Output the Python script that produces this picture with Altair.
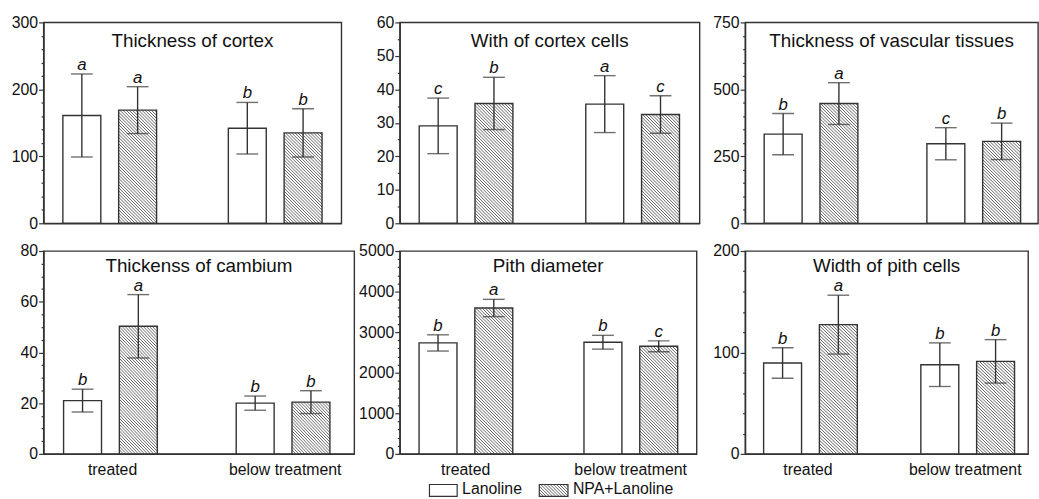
import altair as alt

# ---------------- data ----------------
groups = ["treated", "below treatment"]
series = ["Lanoline", "NPA+Lanoline"]

titles = ["Thickness of cortex", "With of cortex cells", "Thickness of vascular tissues",
          "Thickenss of cambium", "Pith diameter", "Width of pith cells"]
ymax = [300, 60, 750, 80, 5000, 200]
major = [100, 10, 250, 20, 1000, 100]
minor = [20, 5, 50, 5, 200, 20]

# order: treated-Lanoline, treated-NPA, below-Lanoline, below-NPA
means = [
    [161, 169, 142, 135],
    [29.1, 35.8, 35.6, 32.5],
    [333, 447, 297, 306],
    [21.0, 50.3, 20.0, 20.4],
    [2734, 3595, 2751, 2651],
    [89.6, 127.4, 87.9, 91.2],
]
errs = [
    [62, 35, 38.5, 36],
    [8.3, 7.8, 8.5, 5.6],
    [77, 78, 60, 68],
    [4.5, 12.5, 2.8, 4.5],
    [200, 213, 170, 135],
    [15, 29, 21.5, 21.4],
]
letters = [
    ["a", "a", "b", "b"],
    ["c", "b", "a", "c"],
    ["b", "a", "c", "b"],
    ["b", "a", "b", "b"],
    ["b", "a", "b", "c"],
    ["b", "a", "b", "b"],
]

# ---------------- style / layout ----------------
FONT = "Liberation Sans"
INK = "#333333"
TXT = "#111111"
widths = [301, 303, 296, 314, 300, 286]
heights = [203, 203, 203, 205, 205, 205]
PI, PO = 0.4, 0.1      # group band paddings
OPI, OPO = 0.32, 0.05  # offset band paddings


def hatch(w, h, spacing=3.2, width=0.6, ink="#5c5c5c"):
    """Linear gradient (bbox units) drawing soft 45-degree '\\' stripes."""
    k = (w + h) / (w * w + h * h)
    n = max(1, round((w + h) / spacing))
    stops = []
    for i in range(n):
        a = i / n
        stops += [{"offset": a, "color": "#ffffff"},
                  {"offset": a + width / 2 / n, "color": ink},
                  {"offset": a + width / n, "color": "#ffffff"}]
    stops.append({"offset": 1, "color": "#ffffff"})
    return {"gradient": "linear", "x1": 0, "y1": 1, "x2": w * k, "y2": 1 - h * k,
            "stops": stops}


def bar_width(W):
    step = W / (2 - PI + 2 * PO)
    bw = step * (1 - PI)
    step_o = bw / (2 - OPI + 2 * OPO)
    return step_o * (1 - OPI)


panels = []
for p in range(6):
    W, H = widths[p], heights[p]
    bottom_row = p >= 3
    bw = bar_width(W)
    recs = []
    for i in range(4):
        g = groups[i // 2]
        s = series[i % 2]
        m, e = means[p][i], errs[p][i]
        hpx = m / ymax[p] * H
        recs.append({
            "group": g, "series": s, "mean": m, "lo": m - e, "hi": m + e,
            "letter": letters[p][i],
            "fill": "#ffffff" if i % 2 == 0 else hatch(bw, hpx),
        })
    data = alt.Data(values=recs)

    xaxis = alt.Axis(
        title=None, ticks=False, labels=bottom_row, labelAngle=0,
        labelFontSize=16, labelFont=FONT, labelColor=TXT, labelPadding=8,
        domainColor=INK, domainWidth=1.4,
    )
    x = alt.X("group:N", sort=groups, axis=xaxis,
              scale=alt.Scale(paddingInner=PI, paddingOuter=PO))
    xo = alt.XOffset("series:N", sort=series,
                     scale=alt.Scale(paddingInner=OPI, paddingOuter=OPO))
    tick_vals = list(range(0, ymax[p] + 1, minor[p]))
    yaxis = alt.Axis(
        title=None, grid=False,
        values=tick_vals,
        tickCount=len(tick_vals) + 5,
        format="d",
        labelOverlap=False,
        labelExpr=f"datum.value % {major[p]} === 0 ? datum.label : ''",
        tickSize={"condition": {"test": f"datum.value % {major[p]} === 0", "value": 5},
                  "value": 2.5},
        labelFontSize=16, labelFont=FONT, labelColor=TXT, labelPadding=1,
        domainColor=INK, domainWidth=1.4, tickColor=INK, tickWidth=1.2,
    )
    yscale = alt.Scale(domain=[0, ymax[p]], nice=False, zero=True)

    bars = alt.Chart(data).mark_bar(stroke=INK, strokeWidth=1.4).encode(
        x=x, xOffset=xo,
        y=alt.Y("mean:Q", scale=yscale, axis=yaxis, stack=None),
        fill=alt.Fill("fill:N", scale=None, legend=None),
    )
    rules = alt.Chart(data).mark_rule(color=INK, strokeWidth=1.4).encode(
        x=x, xOffset=xo, y="lo:Q", y2="hi:Q")
    cap_hi = alt.Chart(data).mark_tick(color=INK, thickness=1.4, size=22).encode(
        x=x, xOffset=xo, y="hi:Q")
    cap_lo = alt.Chart(data).mark_tick(color=INK, thickness=1.4, size=22).encode(
        x=x, xOffset=xo, y="lo:Q")
    lets = alt.Chart(data).mark_text(
        font=FONT, fontStyle="italic", fontSize=17, color=TXT,
        baseline="alphabetic", dy=-4,
    ).encode(x=x, xOffset=xo, y="hi:Q", text="letter:N")
    ttl = alt.Chart(alt.Data(values=[{"t": titles[p]}])).mark_text(
        font=FONT, fontSize=19, color=TXT, baseline="middle", align="center",
    ).encode(x=alt.value(W / 2), y=alt.value(19 if p < 3 else 15), text="t:N")

    layers = [bars, rules, cap_hi, cap_lo, lets, ttl]

    if p == 4:  # legend below the middle bottom panel
        ly = H + 36
        sw = [(30, 58), (141, 170)]
        for j, name in enumerate(series):
            ld = alt.Data(values=[{"name": name}])
            fill = "#ffffff" if j == 0 else hatch(sw[j][1] - sw[j][0], 12)
            layers.append(alt.Chart(ld).mark_rect(fill=fill, stroke=INK, strokeWidth=1.2).encode(
                x=alt.value(sw[j][0]), x2=alt.value(sw[j][1]),
                y=alt.value(ly - 5), y2=alt.value(ly + 7)))
            layers.append(alt.Chart(ld).mark_text(
                font=FONT, fontSize=16, color=TXT, align="left", baseline="middle").encode(
                x=alt.value(sw[j][1] + 5), y=alt.value(ly), text="name:N"))

    panels.append(alt.layer(*layers).properties(width=W, height=H))

chart = alt.concat(
    *panels, columns=3, spacing={"row": 28, "column": 46},
    align="none", bounds="flush",
).properties(
    padding={"left": 10, "top": 11, "right": 0, "bottom": 0},
    background="white",
).configure_view(stroke=INK, strokeWidth=1.4)

chart.save("out.html", embed_options={"renderer": "svg", "actions": False})
